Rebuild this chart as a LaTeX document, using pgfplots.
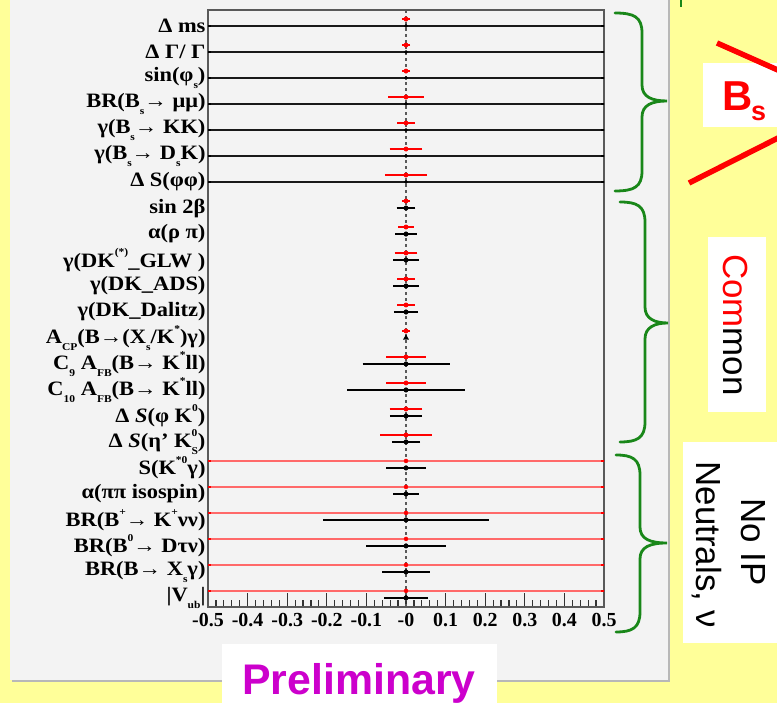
\documentclass[border=0pt]{standalone}
\usepackage{fontspec}
\setmainfont{Liberation Serif}
\newfontfamily\lab{Liberation Serif}[FakeStretch=1.1]
\newfontfamily\arial{Liberation Sans}
\usepackage{pgfplots}
\usepackage{pgfplotstable}
\pgfplotsset{compat=1.18}
\definecolor{bgyellow}{RGB}{255,255,153}
\definecolor{panel}{RGB}{243,243,243}
\definecolor{braceg}{RGB}{25,135,25}
\definecolor{magen}{RGB}{204,0,204}
\definecolor{lred}{RGB}{255,105,105}

\newcommand{\ssb}[1]{{\fontsize{10.5}{10.5}\selectfont #1}}
\newcommand{\dn}[1]{\raisebox{-0.35em}{\ssb{#1}}}
\newcommand{\up}[1]{\raisebox{0.55em}{\ssb{#1}}}

\pgfplotstableread{
y x e
23.27 0 0.003
22.27 0 0.003
21.27 0 0.003
20.27 0 0.037
19.27 0 0.014
18.27 0 0.034
17.27 0 0.046
16.27 0 0.003
15.27 0 0.012
14.27 0 0.021
13.27 0 0.015
12.27 0 0.015
11.27 0 0.003
10.27 0 0.042
9.27 0 0.042
8.27 0 0.034
7.27 0 0.058
}\redpts

\pgfplotstableread{
y x e
6.27 0 0.5
5.27 0 0.5
4.27 0 0.5
3.27 0 0.5
2.27 0 0.5
1.27 0 0.5
}\redfull

\pgfplotstableread{
y x e
23 0 0.5
22 0 0.5
21 0 0.5
20 0 0.5
19 0 0.5
18 0 0.5
17 0 0.5
}\blackfull

\pgfplotstableread{
y x e
16 0 0.015
15 0 0.018
14 0 0.024
13 0 0.023
12 0 0.022
10 0 0.101
9 0 0.140
8 0 0.032
7 0 0.027
6 0 0.041
5 0 0.023
4 0 0.200
3 0 0.092
2 0 0.051
1 0 0.047
}\blackpts

\newcommand{\gbrace}[6]{% x0, ytop, ybot, xspine, xtip, ytip
  \draw[braceg, line width=2.8bp, line cap=round]
    (#1,#2) .. controls (#4-8,#2) and (#4,#2+4) .. (#4,#2+20)
    -- (#4,#6-16) .. controls (#4,#6-4) and (#4+10,#6) .. (#5,#6)
    .. controls (#4+10,#6) and (#4,#6+4) .. (#4,#6+16)
    -- (#4,#3-20) .. controls (#4,#3-4) and (#4-8,#3) .. (#1,#3);}

\begin{document}
\begin{tikzpicture}
\useasboundingbox (0,0) rectangle (777bp,703bp);
\clip (0,0) rectangle (777bp,703bp);
\begin{scope}[x=1bp, y=-1bp, yshift=703bp]
  \fill[bgyellow] (0,0) rectangle (777,703);
  \fill[black!28] (12,-5) rectangle (670,682);
  \fill[panel] (10,-5) rectangle (668,680);
\end{scope}

\begin{axis}[
  at={(208bp,96bp)}, anchor=south west,
  scale only axis, width=396bp, height=597bp,
  xmin=-0.5, xmax=0.5, ymin=0.65, ymax=23.62,
  xtick={-0.5,-0.4,-0.3,-0.2,-0.1,0,0.1,0.2,0.3,0.4,0.5},
  xticklabels={-0.5,-0.4,-0.3,-0.2,-0.1,-0,0.1,0.2,0.3,0.4,0.5},
  minor x tick num=4,
  xtick pos=left,
  tick align=inside,
  major tick length=14bp, minor tick length=7bp,
  every tick/.style={black!80, line width=1.2bp},
  ytick={1,...,23},
  yticklabels={
    {|V\dn{ub}|},
    {BR(B→ X\dn{s}γ)},
    {BR(B\up{0}→ Dτν)},
    {BR(B\up{+}→ K\up{+}νν)},
    {α(ππ isospin)},
    {S(K\up{*0}γ)},
    {Δ \textit{S}(η’ K\rlap{\up{0}}\dn{S})},
    {Δ \textit{S}(φ K\up{0})},
    {C\dn{10} A\dn{FB}(B→ K\up{*}ll)},
    {C\dn{9} A\dn{FB}(B→ K\up{*}ll)},
    {A\dn{CP}(B→(X\dn{s}/K\up{*})γ)},
    {γ(DK\_Dalitz)},
    {γ(DK\_ADS)},
    {γ(DK\up{(*)}\_GLW )},
    {α(ρ π)},
    {sin 2β},
    {Δ S(φφ)},
    {γ(B\dn{s}→ D\dn{s}K)},
    {γ(B\dn{s}→ KK)},
    {BR(B\dn{s}→ μμ)},
    {sin(φ\dn{s})},
    {Δ Γ/ Γ},
    {Δ ms}},
  ytick style={draw=none},
  axis line style={black!65, line width=1.3bp},
  xticklabel style={font=\bfseries\fontsize{20}{20}\selectfont, yshift=-3bp},
  yticklabel style={font=\lab\bfseries\fontsize{20.5}{20.5}\selectfont, xshift=1bp},
]
\addplot[black!65, line width=1.4bp, dash pattern=on 3bp off 3bp] coordinates {(0,0.65) (0,23.62)};

\addplot[only marks, mark=*, mark size=1.6bp, black,
  error bars/.cd, x dir=both, x explicit,
  error bar style={line width=2.6bp, black!90},
  error mark options={line width=1.5bp, mark size=3bp, black}]
  table[x=x, y=y, x error=e] {\blackfull};

\addplot[only marks, mark=*, mark size=2bp, red,
  error bars/.cd, x dir=both, x explicit,
  error bar style={line width=2.2bp, lred},
  error mark options={line width=2bp, mark size=3bp, red}]
  table[x=x, y=y, x error=e] {\redfull};

\addplot[only marks, mark=*, mark size=2.3bp, black,
  error bars/.cd, x dir=both, x explicit,
  error bar style={line width=1.8bp, black},
  error mark options={line width=1.8bp, mark size=3.5bp, black}]
  table[x=x, y=y, x error=e] {\blackpts};

\addplot[only marks, mark=triangle*, mark size=3bp, black] coordinates {(0,11)};

\addplot[only marks, mark=*, mark size=2.2bp, red,
  error bars/.cd, x dir=both, x explicit,
  error bar style={line width=1.8bp, red},
  error mark options={line width=1.8bp, mark size=3bp, red}]
  table[x=x, y=y, x error=e] {\redpts};
\end{axis}

\begin{scope}[x=1bp, y=-1bp, yshift=703bp]
  \gbrace{615}{13}{191}{642}{667}{101}
  \gbrace{620}{202}{442}{645}{668}{323}
  \gbrace{616}{455}{632}{640}{667}{543}
  \draw[braceg, line width=2.5bp] (681,-2) -- (681,7);
  % B_s box
  \fill[white] (703,63) rectangle (780,127);
  \draw[red, line width=5.5bp] (717,43) -- (780,71);
  \draw[red, line width=5.5bp] (689,183) -- (780,137);
  \node[anchor=base west, inner sep=0, text=red, font=\arial\bfseries\fontsize{42}{42}\selectfont] at (722,111) {B};
  \node[anchor=base west, inner sep=0, text=red, font=\arial\bfseries\fontsize{27}{27}\selectfont] at (751,121) {s};
  % Common box
  \fill[white] (708,237) rectangle (766,412);
  \node[rotate=-90, anchor=base, inner sep=0, font=\arial\fontsize{35}{35}\selectfont] at (723,325) {\textcolor{red}{Com}mon};
  % No IP box
  \fill[white] (683,442) rectangle (780,643);
  \node[rotate=-90, anchor=base, inner sep=0, font=\arial\fontsize{35}{35}\selectfont] at (741,542) {No IP};
  \node[rotate=-90, anchor=base, inner sep=0, font=\arial\fontsize{35}{35}\selectfont] at (696,545) {Neutrals, ν};
  % Preliminary
  \fill[white] (222,644) rectangle (497,710);
  \node[anchor=base, inner sep=0, text=magen, font=\arial\bfseries\fontsize{43}{43}\selectfont] at (359,695) {Preliminary};
\end{scope}
\end{tikzpicture}
\end{document}
